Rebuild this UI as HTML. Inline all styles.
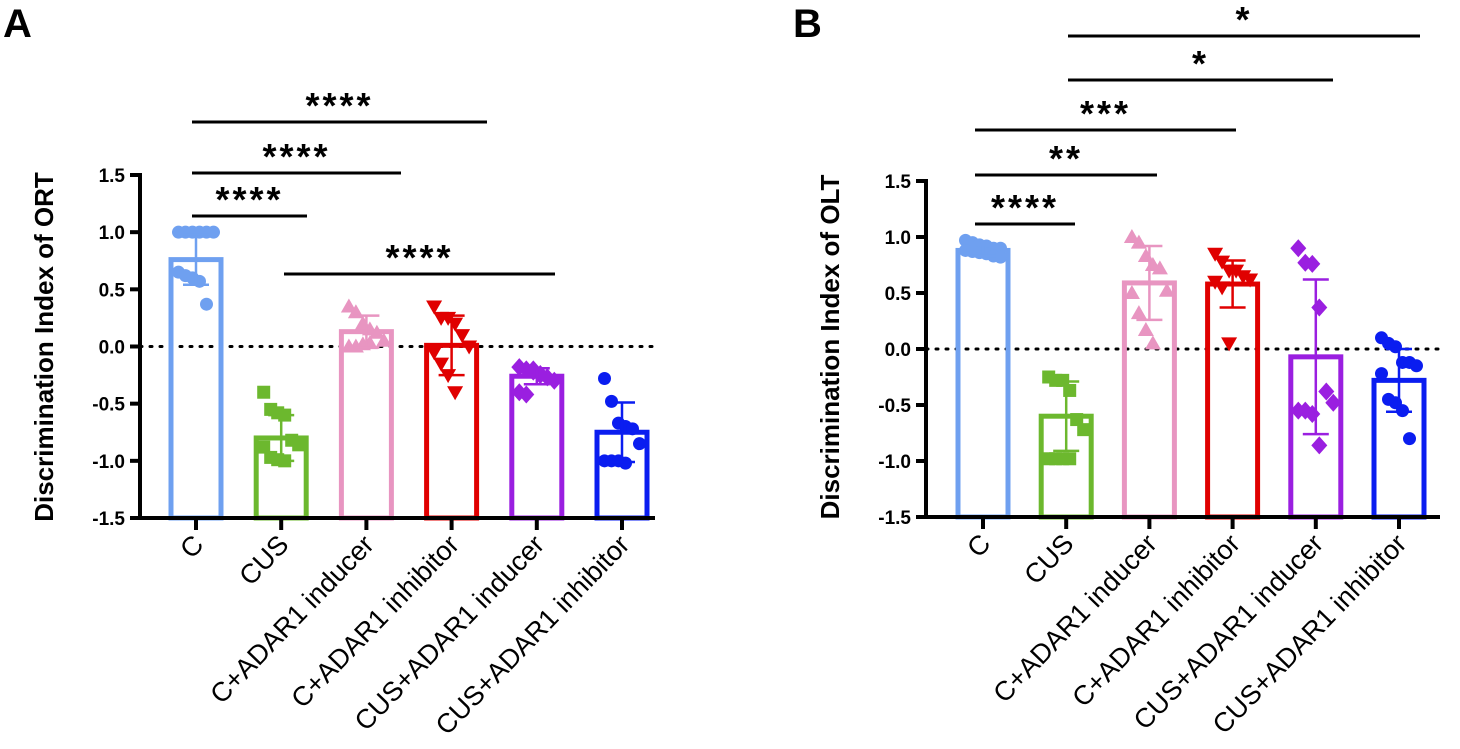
<!DOCTYPE html>
<html><head><meta charset="utf-8">
<style>
html,body{margin:0;padding:0;background:#fff;}
svg{display:block;font-family:"Liberation Sans",Arial,sans-serif;}
</style></head>
<body>
<svg id="fig" width="1460" height="749" viewBox="0 0 1460 749"></svg>
<script>
const categories = ["C","CUS","C+ADAR1 inducer","C+ADAR1 inhibitor","CUS+ADAR1 inducer","CUS+ADAR1 inhibitor"];
const colors = ["#6fa0f0","#6cb82e","#e895c1","#e00000","#9a1fe0","#0a1df0"];
const markers = ["circle","square","triUp","triDown","diamond","circle"];
const yTicks = [1.5,1.0,0.5,0.0,-0.5,-1.0,-1.5];
const yTickLabels = ["1.5","1.0","0.5","0.0","-0.5","-1.0","-1.5"];

const ortMeans = [0.76,-0.80,0.13,0.01,-0.26,-0.75];
const ortSD = [0.22,0.20,0.14,0.26,0.07,0.26];
const ortPoints = [
 [1,1,1,1,1,1,0.65,0.62,0.6,0.57,0.37],
 [-0.4,-0.55,-0.58,-0.6,-0.82,-0.86,-0.88,-0.97,-0.99,-1.0],
 [0.35,0.3,0.2,0.15,0.12,0.05,0.0,0.0,0.02,0.03],
 [0.35,0.25,0.25,0.2,0.1,0.0,-0.05,-0.15,-0.25,-0.4],
 [-0.18,-0.2,-0.22,-0.25,-0.27,-0.3,-0.4,-0.42,-0.2,-0.24],
 [-0.28,-0.48,-0.67,-0.7,-0.72,-0.85,-1.0,-1.0,-1.0,-1.02]
];
const oltMeans = [0.88,-0.60,0.59,0.58,-0.07,-0.28];
const oltSD = [0.05,0.31,0.33,0.21,0.69,0.28];
const oltPoints = [
 [0.97,0.95,0.93,0.92,0.9,0.9,0.88,0.87,0.86,0.85,0.83,0.82],
 [-0.25,-0.28,-0.28,-0.37,-0.63,-0.72,-0.98,-0.98,-0.98,-0.98],
 [1.0,0.95,0.83,0.75,0.72,0.52,0.5,0.32,0.17,0.05],
 [0.85,0.78,0.7,0.7,0.65,0.62,0.6,0.55,0.05],
 [0.9,0.77,0.76,0.37,-0.38,-0.48,-0.55,-0.55,-0.58,-0.86],
 [0.1,0.05,0.02,-0.12,-0.12,-0.15,-0.22,-0.45,-0.48,-0.55,-0.8]
];
const ortSig = [
 {a:0,b:1,label:"****",y:216,x1:192,x2:307},
 {a:0,b:2,label:"****",y:173,x1:192,x2:401},
 {a:0,b:3,label:"****",y:122,x1:192,x2:487},
 {a:1,b:4,label:"****",y:274,x1:284,x2:555}
];
const oltSig = [
 {a:0,b:1,label:"****",y:224,x1:975,x2:1075},
 {a:0,b:2,label:"**",y:175,x1:975,x2:1157},
 {a:0,b:3,label:"***",y:130,x1:975,x2:1236},
 {a:1,b:4,label:"*",y:80,x1:1068,x2:1333},
 {a:1,b:5,label:"*",y:36,x1:1068,x2:1420}
];

const NS="http://www.w3.org/2000/svg";
const svg=document.getElementById('fig');
function mk(tag,attrs,parent){const e=document.createElementNS(NS,tag);for(const k in attrs)e.setAttribute(k,attrs[k]);(parent||svg).appendChild(e);return e;}

function panel(cfg){
  const g=mk('g',{});
  
  
  const y=v=>cfg.y0-(v-(-1.5))*(cfg.y0-cfg.y1)/3;
  const x=i=>cfg.xFirst+i*cfg.step;
  const L=mk('text',{x:cfg.letterX,y:37,'font-size':40,'font-weight':'bold'},g);L.textContent=cfg.letter;
  
  
  const yt=mk('text',{transform:`translate(${cfg.titleX},347) rotate(-90)`,'text-anchor':'middle','font-size':26,'font-weight':'bold'},g);
  yt.textContent=cfg.title;
  
  
  const zl=mk('line',{x1:cfg.axisX,x2:cfg.xEnd,y1:y(0),y2:y(0),stroke:'#000','stroke-width':3,'stroke-dasharray':'2 8','stroke-linecap':'round'},g);
  
  
  cfg.means.forEach((m,i)=>{
    const bw=50;
    const b=mk('rect',{x:x(i)-bw/2,y:Math.min(y(m),y(-1.5)),width:bw,height:Math.abs(y(-1.5)-y(m)),fill:'none',stroke:colors[i],'stroke-width':5},g);
    
    
  });
  cfg.points.forEach((arr,i)=>{
    arr.forEach((v,j)=>{
      const off=((j%6)-2.5)*7;
      const cx=x(i)+off, cy=y(v), r=6.5, c=colors[i];
      let e;
      if(markers[i]==='circle') e=mk('circle',{cx,cy,r,fill:c},g);
      else if(markers[i]==='square') e=mk('rect',{x:cx-r,y:cy-r,width:2*r,height:2*r,fill:c},g);
      else if(markers[i]==='triUp') e=mk('polygon',{points:`${cx},${cy-8} ${cx-8},${cy+6} ${cx+8},${cy+6}`,fill:c},g);
      else if(markers[i]==='triDown') e=mk('polygon',{points:`${cx},${cy+8} ${cx-8},${cy-6} ${cx+8},${cy-6}`,fill:c},g);
      else e=mk('polygon',{points:`${cx},${cy-9} ${cx+8},${cy} ${cx},${cy+9} ${cx-8},${cy}`,fill:c},g);
      
      
    });
  });
  cfg.means.forEach((m,i)=>{
    const eg=mk('g',{stroke:colors[i],'stroke-width':2.5},g);
    
    
    mk('line',{x1:x(i),x2:x(i),y1:y(m-cfg.sd[i]),y2:y(m+cfg.sd[i])},eg);
    mk('line',{x1:x(i)-13,x2:x(i)+13,y1:y(m-cfg.sd[i]),y2:y(m-cfg.sd[i])},eg);
    mk('line',{x1:x(i)-13,x2:x(i)+13,y1:y(m+cfg.sd[i]),y2:y(m+cfg.sd[i])},eg);
  });
  const ax=mk('g',{stroke:'#000','stroke-width':4},g);
  
  
  mk('line',{x1:cfg.axisX,x2:cfg.axisX,y1:y(1.5)-2,y2:y(-1.5)+2},ax);
  mk('line',{x1:cfg.axisX-10,x2:cfg.xEnd,y1:y(-1.5),y2:y(-1.5)},ax);
  yTicks.forEach((t,k)=>{
    mk('line',{x1:cfg.axisX-10,x2:cfg.axisX,y1:y(t),y2:y(t)},ax);
    const tl=mk('text',{x:cfg.axisX-15,y:y(t)+7,'text-anchor':'end','font-size':19,'font-weight':'bold'},g);
    tl.textContent=yTickLabels[k];
    
    
  });
  categories.forEach((c,i)=>{
    mk('line',{x1:x(i),x2:x(i),y1:y(-1.5),y2:y(-1.5)+12},ax);
    const t=mk('text',{transform:`translate(${x(i)+9},${y(-1.5)+28}) rotate(-46)`,'text-anchor':'end','font-size':27},g);
    t.textContent=c;
    
    
  });
  cfg.sig.forEach(s=>{
    const sl=mk('line',{x1:s.x1,x2:s.x2,y1:s.y,y2:s.y,stroke:'#000','stroke-width':3},g);
    
    
    const st=mk('text',{x:(s.x1+s.x2)/2,y:s.y-4,'text-anchor':'middle','font-size':36,'font-weight':'bold','letter-spacing':'3'},g);
    st.textContent=s.label;
    
    
  });
}

panel({name:'panel-a-ort',letter:'A',letterX:3,title:'Discrimination Index of ORT',titleX:53,
  axisX:140,xFirst:196,step:85.2,xEnd:655,y0:518,y1:175,
  means:ortMeans,sd:ortSD,points:ortPoints,sig:ortSig});
panel({name:'panel-b-olt',letter:'B',letterX:793,title:'Discrimination Index of OLT',titleX:839,
  axisX:926,xFirst:983,step:83.2,xEnd:1440,y0:517,y1:181,
  means:oltMeans,sd:oltSD,points:oltPoints,sig:oltSig});
</script>
</body></html>
